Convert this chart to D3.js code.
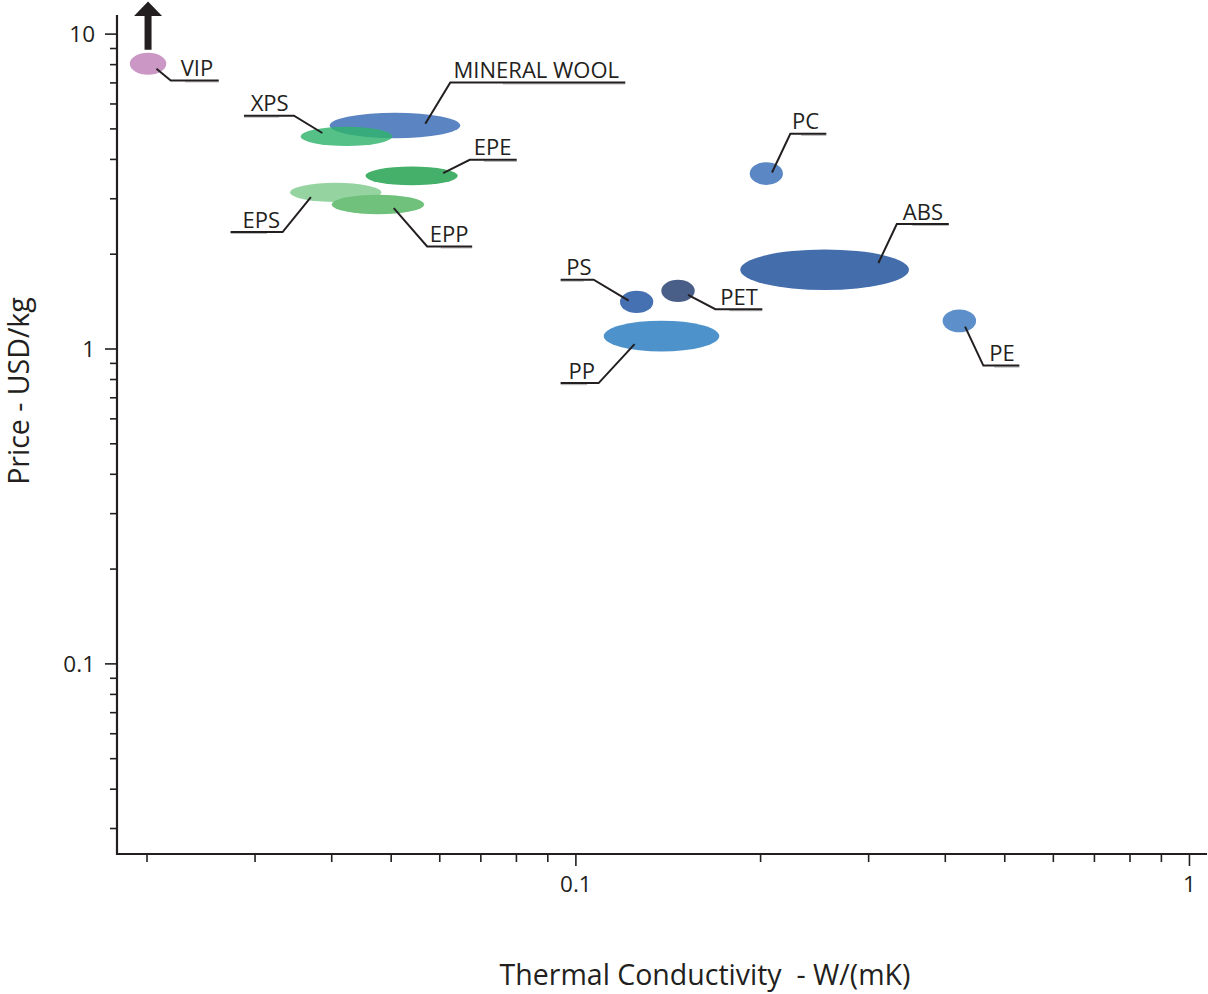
<!DOCTYPE html>
<html>
<head>
<meta charset="utf-8">
<script src="https://cdn.jsdelivr.net/npm/d3@7"></script>
<style>
  html, body { margin: 0; padding: 0; background: #fff; }
  svg { display: block; font-family: "Open Sans", "Noto Sans", sans-serif; }
</style>
</head>
<body>
<div id="chart"></div>
<script>
// thermal conductivity (W/mK) and price (USD/kg) ranges per material
const materials = ['VIP', 'MINERAL WOOL', 'XPS', 'EPE', 'EPS', 'EPP', 'PC', 'ABS', 'PS', 'PET', 'PP', 'PE'];
const kLow      = [0.01875, 0.0397, 0.0356, 0.0454, 0.0342, 0.0400, 0.192, 0.1853, 0.118, 0.1378, 0.111, 0.396];
const kHigh     = [0.0215, 0.0648, 0.0502, 0.0642, 0.0482, 0.0566, 0.2175, 0.349, 0.1337, 0.1562, 0.1713, 0.449];
const priceLow  = [7.43, 4.67, 4.41, 3.31, 2.93, 2.68, 3.32, 1.54, 1.30, 1.41, 0.982, 1.13];
const priceHigh = [8.72, 5.63, 5.08, 3.80, 3.37, 3.09, 3.92, 2.07, 1.53, 1.66, 1.23, 1.335];

const xMajor = [0.1, 1];
const yMajor = [0.1, 1, 10];

const colors = {
  'VIP': '#cb98c6', 'MINERAL WOOL': '#5b84c2', 'XPS': '#30b36d', 'EPE': '#44b06a',
  'EPS': '#95d4a0', 'EPP': '#6fc17b', 'PC': '#5b88c4', 'ABS': '#436dab',
  'PS': '#4570b1', 'PET': '#4a5f88', 'PP': '#4d92ca', 'PE': '#5d8fca'
};
const opacity = { 'XPS': 0.82 };

// leader layout, px relative to ellipse centre:
// t = point on blob, e = elbow, len = underline length, tdx = text start from elbow
const labelLayout = {
  'VIP':          { tx: 8.4,   ty: 5,    ex: 22.7,  ey: 16.7,  side: 'right', len: 48,  tdx: 10 },
  'MINERAL WOOL': { tx: 30.3,  ty: -1.7, ex: 55.3,  ey: -43,   side: 'right', len: 175, tdx: 3.3 },
  'XPS':          { tx: -24.1, ty: -3.4, ex: -52.5, ey: -20.7, side: 'left',  len: 50,  tdx: -43.3 },
  'EPE':          { tx: 31.5,  ty: -2.7, ex: 58.1,  ey: -16,   side: 'right', len: 47,  tdx: 4 },
  'EPS':          { tx: -24.8, ty: 4.6,  ex: -53.1, ey: 39.6,  side: 'left',  len: 52,  tdx: -40 },
  'EPP':          { tx: 15.8,  ty: 3.6,  ex: 49.2,  ey: 42,    side: 'right', len: 45,  tdx: 2.6 },
  'PC':           { tx: 5.7,   ty: -1,   ex: 24,    ey: -39.7, side: 'right', len: 36,  tdx: 1.7 },
  'ABS':          { tx: 53.8,  ty: -6.7, ex: 72.2,  ey: -45.7, side: 'right', len: 52,  tdx: 6 },
  'PS':           { tx: -8,    ty: -1.3, ex: -43,   ey: -22.3, side: 'left',  len: 33,  tdx: -27.3 },
  'PET':          { tx: 10,    ty: 4,    ex: 37.3,  ey: 18.3,  side: 'right', len: 47,  tdx: 5 },
  'PP':           { tx: -26.9, ty: 8,    ex: -62.9, ey: 47,    side: 'left',  len: 38,  tdx: -30 },
  'PE':           { tx: 5.7,   ty: 5.7,  ex: 24,    ey: 44.7,  side: 'right', len: 36,  tdx: 6 }
};

const width = 1208, height = 994;
const ink = '#231f20';

const svg = d3.select('#chart').append('svg')
  .attr('width', width)
  .attr('height', height);

const x = d3.scaleLog().domain([0.01787, 1.068]).range([117, 1207]);
const y = d3.scaleLog().domain([0.0249, 11.5]).range([854, 15]);

// minor ticks: 2..9 times each decade inside the domain
const minorTicks = (scale) => {
  const [lo, hi] = scale.domain();
  const out = [];
  for (let p = -3; p <= 2; p++) {
    for (let m = 1; m <= 9; m++) {
      const v = m * Math.pow(10, p);
      if (v >= lo && v <= hi) out.push(+v.toPrecision(6));
    }
  }
  return out;
};
const fmt = d => d >= 1 ? d3.format('d')(d) : String(d);

// axes
const yAxis = svg.append('g').attr('transform', `translate(${x.range()[0]},0)`);
yAxis.append('line')
  .attr('y1', y.range()[0] + 1).attr('y2', y.range()[1])
  .attr('stroke', ink).attr('stroke-width', 2.2);
yAxis.selectAll('line.tick')
  .data(minorTicks(y))
  .join('line')
  .attr('class', 'tick')
  .attr('x1', d => yMajor.includes(d) ? -12 : -7).attr('x2', 0)
  .attr('y1', d => y(d)).attr('y2', d => y(d))
  .attr('stroke', ink).attr('stroke-width', 1.6);
yAxis.selectAll('text')
  .data(yMajor)
  .join('text')
  .attr('x', -22).attr('y', d => y(d))
  .attr('dy', '0.35em')
  .attr('text-anchor', 'end')
  .attr('font-size', 22.5)
  .attr('fill', ink)
  .text(fmt);

const xAxis = svg.append('g').attr('transform', `translate(0,${y.range()[0]})`);
xAxis.append('line')
  .attr('x1', x.range()[0] - 1).attr('x2', x.range()[1])
  .attr('stroke', ink).attr('stroke-width', 2.2);
xAxis.selectAll('line.tick')
  .data(minorTicks(x))
  .join('line')
  .attr('class', 'tick')
  .attr('x1', d => x(d)).attr('x2', d => x(d))
  .attr('y1', 0).attr('y2', d => xMajor.includes(d) ? 12 : 8)
  .attr('stroke', ink).attr('stroke-width', 1.6);
xAxis.selectAll('text')
  .data(xMajor)
  .join('text')
  .attr('x', d => x(d)).attr('y', 38)
  .attr('text-anchor', 'middle')
  .attr('font-size', 22.5)
  .attr('fill', ink)
  .text(fmt);

svg.append('text')
  .attr('x', 705).attr('y', 985)
  .attr('text-anchor', 'middle')
  .attr('font-size', 28.5)
  .attr('fill', ink)
  .attr('xml:space', 'preserve')
  .text('Thermal Conductivity  - W/(mK)');

svg.append('text')
  .attr('transform', 'translate(29,391) rotate(-90)')
  .attr('text-anchor', 'middle')
  .attr('font-size', 28.5)
  .attr('fill', ink)
  .text('Price - USD/kg');

// material blobs
const blobs = materials.map((name, i) => {
  const x0 = x(kLow[i]), x1 = x(kHigh[i]);
  const y0 = y(priceHigh[i]), y1 = y(priceLow[i]);
  return { name, cx: (x0 + x1) / 2, cy: (y0 + y1) / 2, rx: (x1 - x0) / 2, ry: (y1 - y0) / 2 };
});

svg.append('g').selectAll('ellipse')
  .data(blobs)
  .join('ellipse')
  .attr('cx', d => d.cx).attr('cy', d => d.cy)
  .attr('rx', d => d.rx).attr('ry', d => d.ry)
  .attr('fill', d => colors[d.name])
  .attr('fill-opacity', d => opacity[d.name] || 1);

// arrow above VIP: price goes off the chart
const vip = blobs[0];
const arrow = d3.path();
arrow.moveTo(vip.cx - 3.5, vip.cy - vip.ry - 3);
arrow.lineTo(vip.cx - 3.5, 16);
arrow.lineTo(vip.cx - 14, 16);
arrow.lineTo(vip.cx, 1.5);
arrow.lineTo(vip.cx + 14, 16);
arrow.lineTo(vip.cx + 3.5, 16);
arrow.lineTo(vip.cx + 3.5, vip.cy - vip.ry - 3);
arrow.closePath();
svg.append('path').attr('d', arrow.toString()).attr('fill', ink);

// leaders and labels
const labels = svg.append('g').selectAll('g')
  .data(blobs)
  .join('g')
  .attr('transform', d => `translate(${d.cx},${d.cy})`);

// soft shadow under the outer part of the underline
labels.append('path')
  .attr('d', d => {
    const L = labelLayout[d.name];
    const dir = L.side === 'right' ? 1 : -1;
    const a = L.ex + dir * L.len * 0.3, b = L.ex + dir * L.len;
    return `M${a},${L.ey + 1.4}L${b},${L.ey + 1.4}`;
  })
  .attr('stroke', '#bdbdbd')
  .attr('stroke-width', 1.4);

labels.append('path')
  .attr('d', d => {
    const L = labelLayout[d.name];
    const end = L.side === 'right' ? L.ex + L.len : L.ex - L.len;
    return `M${L.tx},${L.ty}L${L.ex},${L.ey}L${end},${L.ey}`;
  })
  .attr('fill', 'none')
  .attr('stroke', ink)
  .attr('stroke-width', 2);

labels.append('text')
  .attr('x', d => labelLayout[d.name].ex + labelLayout[d.name].tdx)
  .attr('y', d => labelLayout[d.name].ey - 4.5)
  .attr('font-size', 22)
  .attr('fill', ink)
  .text(d => d.name);
</script>
</body>
</html>
